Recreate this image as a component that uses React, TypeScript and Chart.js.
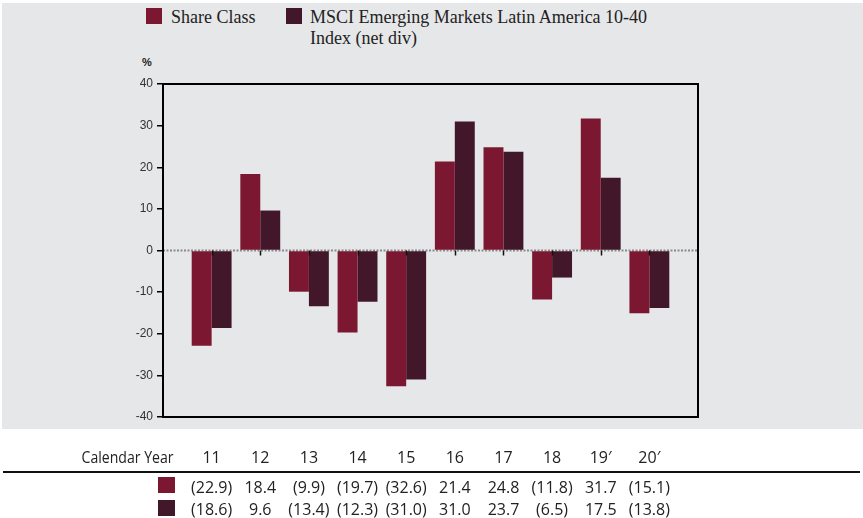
import React, { useEffect, useRef, useState } from "react";
import { Chart, registerables } from "chart.js";

Chart.register(...registerables);

const years = ["11", "12", "13", "14", "15", "16", "17", "18", "19′", "20′"];
const shareClass = [-22.9, 18.4, -9.9, -19.7, -32.6, 21.4, 24.8, -11.8, 31.7, -15.1];
const msciIndex = [-18.6, 9.6, -13.4, -12.3, -31.0, 31.0, 23.7, -6.5, 17.5, -13.8];
const shareLabels = ["(22.9)", "18.4", "(9.9)", "(19.7)", "(32.6)", "21.4", "24.8", "(11.8)", "31.7", "(15.1)"];
const msciLabels = ["(18.6)", "9.6", "(13.4)", "(12.3)", "(31.0)", "31.0", "23.7", "(6.5)", "17.5", "(13.8)"];
const seriesNames = ["Share Class", "MSCI Emerging Markets Latin America 10-40", "Index (net div)"];
const yTicks = [-40, -30, -20, -10, 0, 10, 20, 30, 40];

const SHARE_COLOR = "#7C1731";
const MSCI_COLOR = "#43172A";
const BG = "#E6E7E8";

const framePlugin = {
  id: "frame",
  beforeDatasetsDraw(chart: any) {
    const { ctx, chartArea } = chart;
    const y0 = chart.scales.y.getPixelForValue(0);
    ctx.save();
    ctx.strokeStyle = "#8a8a8a";
    ctx.lineWidth = 2;
    ctx.setLineDash([2, 1.5]);
    ctx.beginPath();
    ctx.moveTo(chartArea.left, y0);
    ctx.lineTo(chartArea.right, y0);
    ctx.stroke();
    ctx.restore();
  },
  afterDatasetsDraw(chart: any) {
    const { ctx, chartArea } = chart;
    const y0 = chart.scales.y.getPixelForValue(0);
    const xs = chart.scales.x;
    ctx.save();
    ctx.strokeStyle = "#111";
    ctx.lineWidth = 1.5;
    for (let i = 1; i <= years.length; i++) {
      const x = Math.round(xs.getPixelForValue(i)) + 0.5;
      ctx.beginPath();
      ctx.moveTo(x, y0);
      ctx.lineTo(x, y0 + 5);
      ctx.stroke();
    }
    ctx.lineWidth = 2;
    ctx.strokeStyle = "#000";
    ctx.strokeRect(chartArea.left, chartArea.top, chartArea.right - chartArea.left, chartArea.bottom - chartArea.top);
    ctx.restore();
  },
};

export default function App() {
  const ref = useRef<HTMLCanvasElement | null>(null);
  const [cols, setCols] = useState<number[]>([]);

  useEffect(() => {
    if (!ref.current) return;
    const labels = ["", ...years, ""];
    const chart = new Chart(ref.current, {
      type: "bar",
      data: {
        labels,
        datasets: [
          { label: seriesNames[0], data: [null, ...shareClass, null], backgroundColor: SHARE_COLOR, borderWidth: 0 },
          { label: seriesNames[1], data: [null, ...msciIndex, null], backgroundColor: MSCI_COLOR, borderWidth: 0 },
        ],
      },
      options: {
        animation: false,
        responsive: false,
        devicePixelRatio: 1,
        layout: { padding: { left: 0, top: 84, right: 165, bottom: 101 } },
        plugins: { legend: { display: false }, tooltip: { enabled: false } },
        datasets: { bar: { barPercentage: 1, categoryPercentage: 0.82 } },
        scales: {
          x: {
            type: "category",
            offset: false,
            display: false,
            grid: { display: false },
          },
          y: {
            min: -40,
            max: 40,
            afterFit: (s: any) => { s.width = 163; },
            afterBuildTicks: (s: any) => { s.ticks = yTicks.map((v) => ({ value: v })); },
            border: { display: false },
            grid: { drawOnChartArea: false, drawTicks: true, tickLength: 6, color: "#000", lineWidth: 1.5 },
            ticks: {
              padding: 4,
              color: "#333",
              font: { family: "'Liberation Sans', Arial, sans-serif", size: 12 },
            },
          },
        },
      } as any,
      plugins: [framePlugin],
    });
    const xs: any = chart.scales.x;
    setCols(years.map((_, i) => xs.getPixelForValue(i + 1)));
    return () => chart.destroy();
  }, []);

  const tableFont: React.CSSProperties = {
    fontFamily: "'Open Sans', sans-serif",
    fontSize: 16,
    lineHeight: "20px",
    color: "#222",
    position: "absolute",
    whiteSpace: "nowrap",
  };

  return (
    <div style={{ position: "fixed", left: 0, top: 0, width: 863, height: 518, background: "#fff", overflow: "hidden" }}>
      <div style={{ position: "absolute", left: 2, top: 3, width: 861, height: 426, background: BG }} />
      {/* legend */}
      <div style={{ position: "absolute", left: 146, top: 8, width: 16, height: 16, background: SHARE_COLOR }} />
      <div style={{ position: "absolute", left: 171, top: 7, fontFamily: "'Liberation Serif', serif", fontSize: 18, lineHeight: "21px", color: "#222", whiteSpace: "nowrap" }}>
        {seriesNames[0]}
      </div>
      <div style={{ position: "absolute", left: 286, top: 8, width: 16, height: 16, background: MSCI_COLOR }} />
      <div style={{ position: "absolute", left: 310, top: 7, fontFamily: "'Liberation Serif', serif", fontSize: 18, lineHeight: "21px", color: "#222", whiteSpace: "nowrap" }}>
        {seriesNames[1]}
        <br />
        {seriesNames[2]}
      </div>
      <div style={{ position: "absolute", left: 142, top: 56, fontFamily: "'Liberation Sans', Arial, sans-serif", fontWeight: "bold", fontSize: 11, color: "#222" }}>%</div>
      <canvas ref={ref} width={863} height={518} style={{ position: "absolute", left: 0, top: 0, width: 863, height: 518 }} />
      {/* table */}
      <div style={{ ...tableFont, right: 863 - 174, top: 447, transform: "scaleX(0.88)", transformOrigin: "right center" }}>Calendar Year</div>
      <div style={{ position: "absolute", left: 3, top: 471, width: 857, height: 2, background: "#111" }} />
      <div style={{ position: "absolute", left: 158, top: 477, width: 17, height: 16, background: SHARE_COLOR }} />
      <div style={{ position: "absolute", left: 158, top: 500, width: 17, height: 16, background: MSCI_COLOR }} />
      {cols.map((x, i) => (
        <React.Fragment key={i}>
          <div style={{ ...tableFont, left: x - 40, width: 80, textAlign: "center", top: 447 }}>{years[i]}</div>
          <div style={{ ...tableFont, left: x - 40, width: 80, textAlign: "center", top: 477 }}>{shareLabels[i]}</div>
          <div style={{ ...tableFont, left: x - 40, width: 80, textAlign: "center", top: 499 }}>{msciLabels[i]}</div>
        </React.Fragment>
      ))}
    </div>
  );
}
